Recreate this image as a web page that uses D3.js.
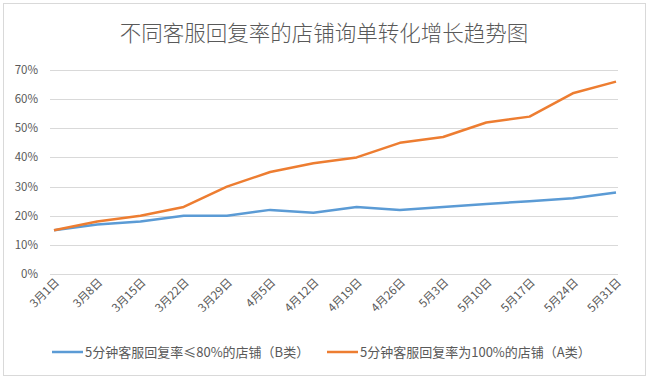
<!DOCTYPE html>
<html>
<head>
<meta charset="utf-8">
<script src="https://cdnjs.cloudflare.com/ajax/libs/d3/7.8.5/d3.min.js"></script>
<style>
  body { margin: 0; background: #fff; }
  svg text { font-family: "Noto Sans CJK SC", "Noto Sans", sans-serif; fill: #595959; }
</style>
</head>
<body>
<script>
// categories and series
var dates = ["3月1日","3月8日","3月15日","3月22日","3月29日","4月5日","4月12日","4月19日","4月26日","5月3日","5月10日","5月17日","5月24日","5月31日"];
var seriesB = [0.15,0.17,0.18,0.20,0.20,0.22,0.21,0.23,0.22,0.23,0.24,0.25,0.26,0.28];
var seriesA = [0.15,0.18,0.20,0.23,0.30,0.35,0.38,0.40,0.45,0.47,0.52,0.54,0.62,0.66];
var yTicks = [0,0.1,0.2,0.3,0.4,0.5,0.6,0.7];
var seriesNames = ["5分钟客服回复率≤80%的店铺（B类）","5分钟客服回复率为100%的店铺（A类）"];

var W = 650, H = 381;
var svg = d3.select("body").append("svg")
  .attr("width", W)
  .attr("height", H);

// outer frame
svg.append("rect")
  .attr("x", 3.5).attr("y", 3.5)
  .attr("width", 642).attr("height", 372)
  .attr("fill", "#fff")
  .attr("stroke", "#d9d9d9");

// title
svg.append("text")
  .attr("x", 324).attr("y", 41)
  .attr("text-anchor", "middle")
  .style("font-size", "21.5px")
  .style("font-weight", 300)
  .text("不同客服回复率的店铺询单转化增长趋势图");

// plot area bounds
var plotL = 50, plotR = 618, plotT = 70, plotB = 274;

var x = d3.scalePoint().domain(dates).range([54, 616]);
var y = d3.scaleLinear().domain([0, 0.7]).range([plotB, plotT]);

// gridlines
svg.append("g")
  .selectAll("line")
  .data(yTicks)
  .join("line")
  .attr("x1", plotL).attr("x2", plotR)
  .attr("y1", function(d) { return Math.round(y(d)) + 0.5; })
  .attr("y2", function(d) { return Math.round(y(d)) + 0.5; })
  .attr("stroke", "#d9d9d9")
  .attr("stroke-width", 1);

// y axis labels
svg.append("g")
  .selectAll("text")
  .data(yTicks)
  .join("text")
  .attr("x", 38)
  .attr("y", function(d) { return y(d) + 4; })
  .attr("text-anchor", "end")
  .style("font-size", "11.5px")
  .text(d3.format(".0%"));

// x axis labels, rotated
svg.append("g")
  .selectAll("text")
  .data(dates)
  .join("text")
  .attr("text-anchor", "end")
  .attr("transform", function(d) { return "translate(" + (x(d) + 6) + ",283) rotate(-45)"; })
  .style("font-size", "11.5px")
  .text(function(d) { return d; });

// lines
var line = d3.line()
  .x(function(d, i) { return x(dates[i]); })
  .y(function(d) { return y(d); });

svg.append("path")
  .datum(seriesB)
  .attr("fill", "none")
  .attr("stroke", "#5B9BD5")
  .attr("stroke-width", 2.5)
  .attr("stroke-linejoin", "round")
  .attr("d", line);

svg.append("path")
  .datum(seriesA)
  .attr("fill", "none")
  .attr("stroke", "#ED7D31")
  .attr("stroke-width", 2.5)
  .attr("stroke-linejoin", "round")
  .attr("d", line);

// legend
var legend = [
  {name: seriesNames[0], color: "#5B9BD5", x: 52},
  {name: seriesNames[1], color: "#ED7D31", x: 327}
];
var lg = svg.append("g").selectAll("g").data(legend).join("g")
  .attr("transform", function(d) { return "translate(" + d.x + ",352)"; });
lg.append("line")
  .attr("x1", 0).attr("x2", 31)
  .attr("stroke", function(d) { return d.color; })
  .attr("stroke-width", 2.5);
lg.append("text")
  .attr("x", 33).attr("y", 4.5)
  .style("font-size", "13px")
  .text(function(d) { return d.name; });
</script>
</body>
</html>
